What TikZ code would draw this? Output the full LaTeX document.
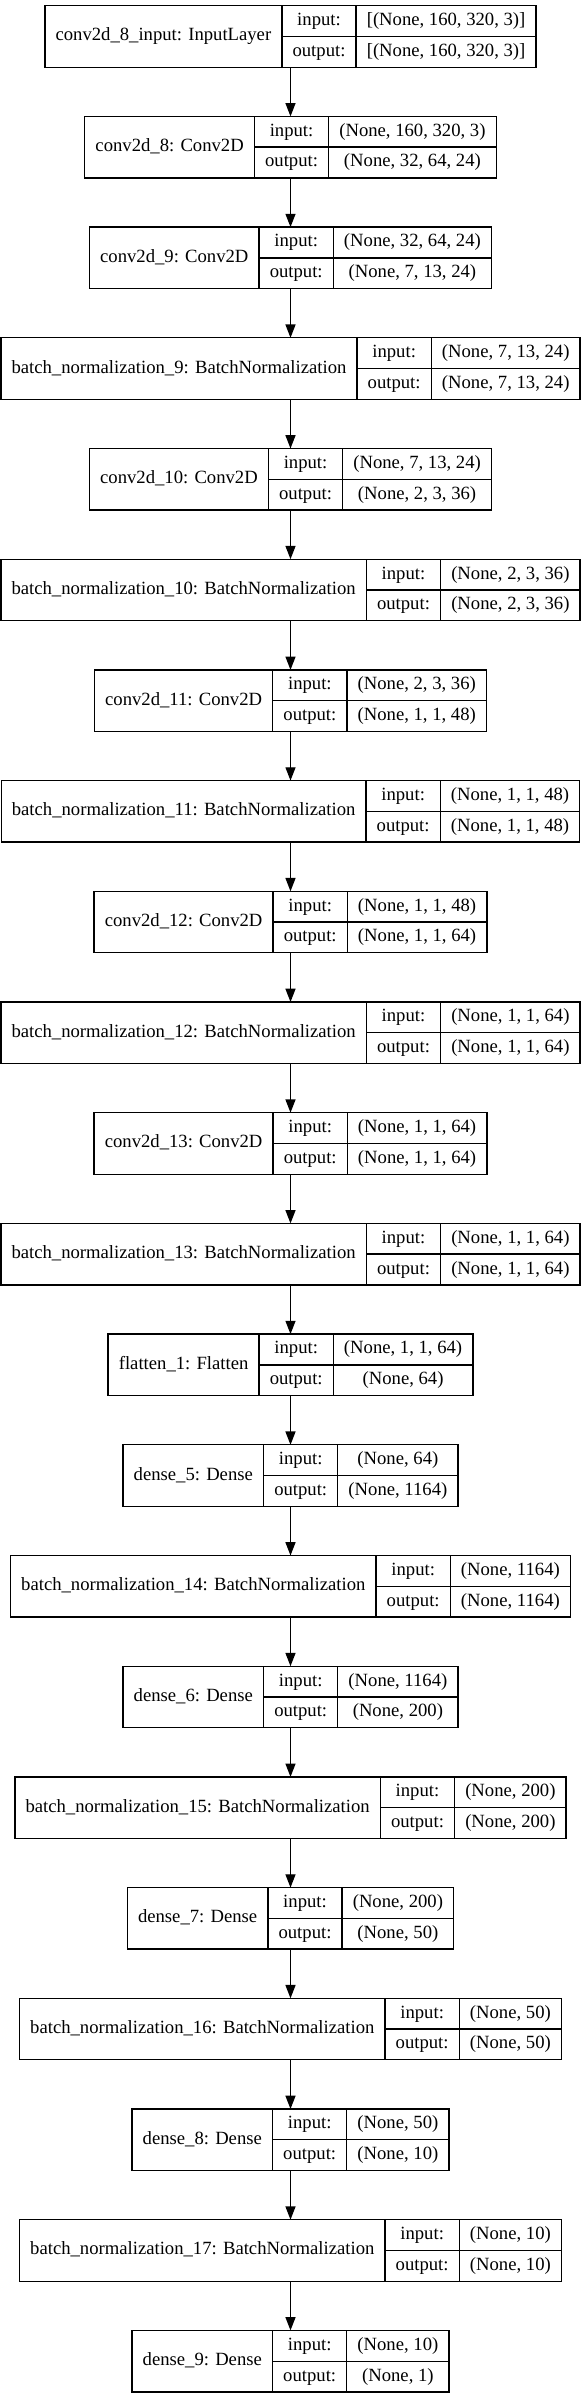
\documentclass[tikz,border=0pt]{standalone}
\usepackage{fontspec}
\setmainfont{Liberation Serif}
\usetikzlibrary{arrows.meta}
\newlength\lwA
\newlength\lwB
\newlength\lwC
\newlength\lwD
\newcommand\lfont{\fontsize{14}{16.8}\selectfont}
\tikzset{
  layerbox/.style={draw=black, line width=1pt, inner sep=0pt, outer sep=0pt, fill=white},
  cellline/.style={draw=black, line width=1pt},
  celltext/.style={font=\lfont, inner sep=0pt, text height=10pt, text depth=3.3pt, anchor=center},
  arr/.style={draw=black, line width=1pt, -{Triangle[length=10pt,width=7.5pt]}},
}
% data: #1 name, #2 index, #3 label, #4 input shape, #5 output shape
\newcommand\allLayers{%
\kL{n0}{0}{conv2d\_8\_input: InputLayer}{[(None, 160, 320, 3)]}{[(None, 160, 320, 3)]}%
\kL{n1}{1}{conv2d\_8: Conv2D}{(None, 160, 320, 3)}{(None, 32, 64, 24)}%
\kL{n2}{2}{conv2d\_9: Conv2D}{(None, 32, 64, 24)}{(None, 7, 13, 24)}%
\kL{n3}{3}{batch\_normalization\_9: BatchNormalization}{(None, 7, 13, 24)}{(None, 7, 13, 24)}%
\kL{n4}{4}{conv2d\_10: Conv2D}{(None, 7, 13, 24)}{(None, 2, 3, 36)}%
\kL{n5}{5}{batch\_normalization\_10: BatchNormalization}{(None, 2, 3, 36)}{(None, 2, 3, 36)}%
\kL{n6}{6}{conv2d\_11: Conv2D}{(None, 2, 3, 36)}{(None, 1, 1, 48)}%
\kL{n7}{7}{batch\_normalization\_11: BatchNormalization}{(None, 1, 1, 48)}{(None, 1, 1, 48)}%
\kL{n8}{8}{conv2d\_12: Conv2D}{(None, 1, 1, 48)}{(None, 1, 1, 64)}%
\kL{n9}{9}{batch\_normalization\_12: BatchNormalization}{(None, 1, 1, 64)}{(None, 1, 1, 64)}%
\kL{n10}{10}{conv2d\_13: Conv2D}{(None, 1, 1, 64)}{(None, 1, 1, 64)}%
\kL{n11}{11}{batch\_normalization\_13: BatchNormalization}{(None, 1, 1, 64)}{(None, 1, 1, 64)}%
\kL{n12}{12}{flatten\_1: Flatten}{(None, 1, 1, 64)}{(None, 64)}%
\kL{n13}{13}{dense\_5: Dense}{(None, 64)}{(None, 1164)}%
\kL{n14}{14}{batch\_normalization\_14: BatchNormalization}{(None, 1164)}{(None, 1164)}%
\kL{n15}{15}{dense\_6: Dense}{(None, 1164)}{(None, 200)}%
\kL{n16}{16}{batch\_normalization\_15: BatchNormalization}{(None, 200)}{(None, 200)}%
\kL{n17}{17}{dense\_7: Dense}{(None, 200)}{(None, 50)}%
\kL{n18}{18}{batch\_normalization\_16: BatchNormalization}{(None, 50)}{(None, 50)}%
\kL{n19}{19}{dense\_8: Dense}{(None, 50)}{(None, 10)}%
\kL{n20}{20}{batch\_normalization\_17: BatchNormalization}{(None, 10)}{(None, 10)}%
\kL{n21}{21}{dense\_9: Dense}{(None, 10)}{(None, 1)}%
}
\newcommand\measureLayer[5]{%
  \settowidth\lwA{\lfont #3}\addtolength\lwA{16pt}%
  \settowidth\lwC{\lfont #4}\settowidth\lwD{\lfont #5}%
  \ifdim\lwD>\lwC \lwC=\lwD\fi
  \addtolength\lwC{16pt}%
  \expandafter\xdef\csname wA#1\endcsname{\the\lwA}%
  \expandafter\xdef\csname wC#1\endcsname{\the\lwC}%
}
\newcommand\drawLayer[5]{%
  \pgfmathsetlengthmacro\Wt{\csname wA#1\endcsname+\wBB+\csname wC#1\endcsname}%
  \pgfmathsetlengthmacro\xL{217.875pt-0.5*\Wt}%
  \pgfmathsetlengthmacro\xA{\xL+\csname wA#1\endcsname}%
  \pgfmathsetlengthmacro\xB{\xA+\wBB}%
  \pgfmathsetlengthmacro\xR{\xL+\Wt}%
  \pgfmathsetlengthmacro\yT{-0.75*(5.7+110.7*#2)}%
  \pgfmathsetlengthmacro\yM{\yT-23.0625pt}%
  \pgfmathsetlengthmacro\yB{\yT-46.125pt}%
  \node[layerbox, minimum width=\Wt, minimum height=46.125pt, anchor=north west] (#1) at (\xL,\yT) {};
  \draw[cellline] (\xA,\yT) -- (\xA,\yB);
  \draw[cellline] (\xB,\yT) -- (\xB,\yB);
  \draw[cellline] (\xA,\yM) -- (\xR,\yM);
  \node[celltext] (#1l) at ({0.5*(\xL+\xA)},{0.5*(\yT+\yB)}) {#3};
  \node[celltext] (#1ii) at ({0.5*(\xA+\xB)},{0.5*(\yT+\yM)}) {input:};
  \node[celltext] (#1io) at ({0.5*(\xA+\xB)},{0.5*(\yM+\yB)}) {output:};
  \node[celltext] (#1si) at ({0.5*(\xB+\xR)},{0.5*(\yT+\yM)}) {#4};
  \node[celltext] (#1so) at ({0.5*(\xB+\xR)},{0.5*(\yM+\yB)}) {#5};
}
\begin{document}%
\settowidth\lwB{\lfont output:}\addtolength\lwB{16pt}%
\xdef\wBB{\the\lwB}%
\let\kL\measureLayer
\allLayers
\begin{tikzpicture}[x=0.75pt, y=-0.75pt]
\fill[white] (0,0) rectangle (581,2397);
\useasboundingbox (0,0) rectangle (581,2397);
\let\kL\drawLayer
\allLayers
\foreach \a/\b in {n0/n1,n1/n2,n2/n3,n3/n4,n4/n5,n5/n6,n6/n7,n7/n8,n8/n9,n9/n10,n10/n11,n11/n12,n12/n13,n13/n14,n14/n15,n15/n16,n16/n17,n17/n18,n18/n19,n19/n20,n20/n21}
  \draw[arr] (\a.south) -- (\b.north);
\end{tikzpicture}%
\end{document}
